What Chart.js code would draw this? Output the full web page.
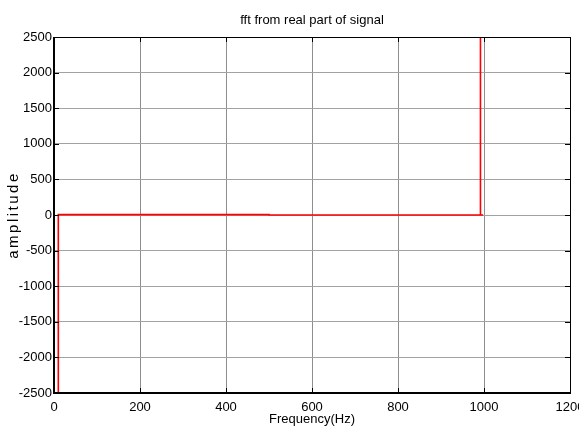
<!DOCTYPE html>
<html>
<head>
<meta charset="utf-8">
<title>fft from real part of signal</title>
<script src="https://cdn.jsdelivr.net/npm/chart.js@4/dist/chart.umd.min.js"></script>
<style>
  html, body { margin: 0; padding: 0; background: #fff; overflow: hidden; width: 579px; height: 432px; }
  #wrap { width: 600px; height: 432px; }
</style>
</head>
<body>
<div id="wrap"><canvas id="c" width="600" height="432"></canvas></div>
<script>
// Spectrum samples: frequency (Hz) and amplitude of the FFT of the real part
const freqHz    = [10, 10, 500, 500, 991, 991.5, 992, 998];
const amplitude = [-9000, 5, 5, 0, 0, 9000, 0, 0];

// Axis ranges and tick spacing
const xRange = [0, 1200];
const xStep = 200;
const yRange = [-2500, 2500];
const yStep = 500;

const titleText = 'fft from real part of signal';
const xLabel = 'Frequency(Hz)';
const yLabel = 'amplitude';

const points = freqHz.map((f, i) => ({ x: f, y: amplitude[i] }));

const sansFont = "'Liberation Sans', Arial, Helvetica, sans-serif";
const tickFont = "'Liberation Sans Narrow', 'Arial Narrow', 'Liberation Sans', Arial, sans-serif";
const plainNumber = v => String(v);

// Box around the plot area plus MATLAB-style inward tick marks
const axesBox = {
  id: 'axesBox',
  afterDraw(chart) {
    const { ctx, chartArea: a, scales } = chart;
    const len = 5;
    ctx.save();
    ctx.strokeStyle = '#000';
    ctx.lineWidth = 1;
    ctx.beginPath();
    scales.x.ticks.forEach(t => {
      const px = Math.round(scales.x.getPixelForValue(t.value)) + 0.5;
      ctx.moveTo(px, a.bottom); ctx.lineTo(px, a.bottom - len);
      ctx.moveTo(px, a.top); ctx.lineTo(px, a.top + len);
    });
    scales.y.ticks.forEach(t => {
      const py = Math.round(scales.y.getPixelForValue(t.value)) + 0.5;
      ctx.moveTo(a.left, py); ctx.lineTo(a.left + len, py);
      ctx.moveTo(a.right, py); ctx.lineTo(a.right - len, py);
    });
    ctx.stroke();
    // top and right edges
    ctx.beginPath();
    ctx.lineWidth = 1;
    ctx.moveTo(a.left, a.top + 0.5); ctx.lineTo(a.right + 0.5, a.top + 0.5);
    ctx.lineTo(a.right + 0.5, a.bottom);
    ctx.stroke();
    // left and bottom axes, a bit heavier
    ctx.beginPath();
    ctx.lineWidth = 2;
    ctx.moveTo(a.left, a.top); ctx.lineTo(a.left, a.bottom);
    ctx.lineTo(a.right + 1, a.bottom);
    ctx.stroke();
    ctx.restore();
  }
};

new Chart(document.getElementById('c'), {
  type: 'scatter',
  data: {
    datasets: [{
      label: 'fft',
      data: points,
      showLine: true,
      borderColor: '#ff0000',
      backgroundColor: '#ff0000',
      borderWidth: 1.6,
      pointRadius: 0,
      pointHoverRadius: 0,
      tension: 0,
      clip: 0
    }]
  },
  options: {
    responsive: false,
    animation: false,
    devicePixelRatio: 1,
    layout: { padding: { left: 0, right: 30, top: 5, bottom: 0 } },
    plugins: {
      legend: { display: false },
      tooltip: { enabled: false },
      title: {
        display: true,
        text: titleText,
        fullSize: false,
        color: '#000',
        font: { family: sansFont, size: 13, weight: 'normal' },
        padding: { top: 8, bottom: 8.4 }
      }
    },
    scales: {
      x: {
        type: 'linear',
        min: xRange[0],
        max: xRange[1],
        border: { display: false },
        grid: { color: '#8e8e8e', lineWidth: 1, drawTicks: false },
        ticks: {
          stepSize: xStep,
          color: '#000',
          padding: 7,
          maxRotation: 0,
          font: { family: tickFont, size: 13 },
          callback: plainNumber
        },
        title: {
          display: true,
          text: xLabel,
          color: '#000',
          font: { family: sansFont, size: 13 },
          padding: { top: 0, bottom: 5 }
        },
        afterFit(scale) { scale.height = 39; }
      },
      y: {
        type: 'linear',
        min: yRange[0],
        max: yRange[1],
        border: { display: false },
        grid: { color: '#a2a2a2', lineWidth: 1, drawTicks: false },
        ticks: {
          stepSize: yStep,
          color: '#000',
          padding: 2,
          font: { family: tickFont, size: 13 },
          callback: plainNumber
        },
        title: {
          display: true,
          text: yLabel,
          color: '#000',
          font: { family: sansFont, size: 15 },
          padding: { top: 5, bottom: 0 }
        },
        afterFit(scale) {
          scale.width = 54;
          if (!scale._spacedTitle) {
            const drawTitle = scale.drawTitle;
            scale.drawTitle = function () {
              this.ctx.save();
              this.ctx.letterSpacing = '2.5px';
              drawTitle.call(this);
              this.ctx.restore();
            };
            scale._spacedTitle = true;
          }
        }
      }
    }
  },
  plugins: [axesBox]
});
</script>
</body>
</html>
